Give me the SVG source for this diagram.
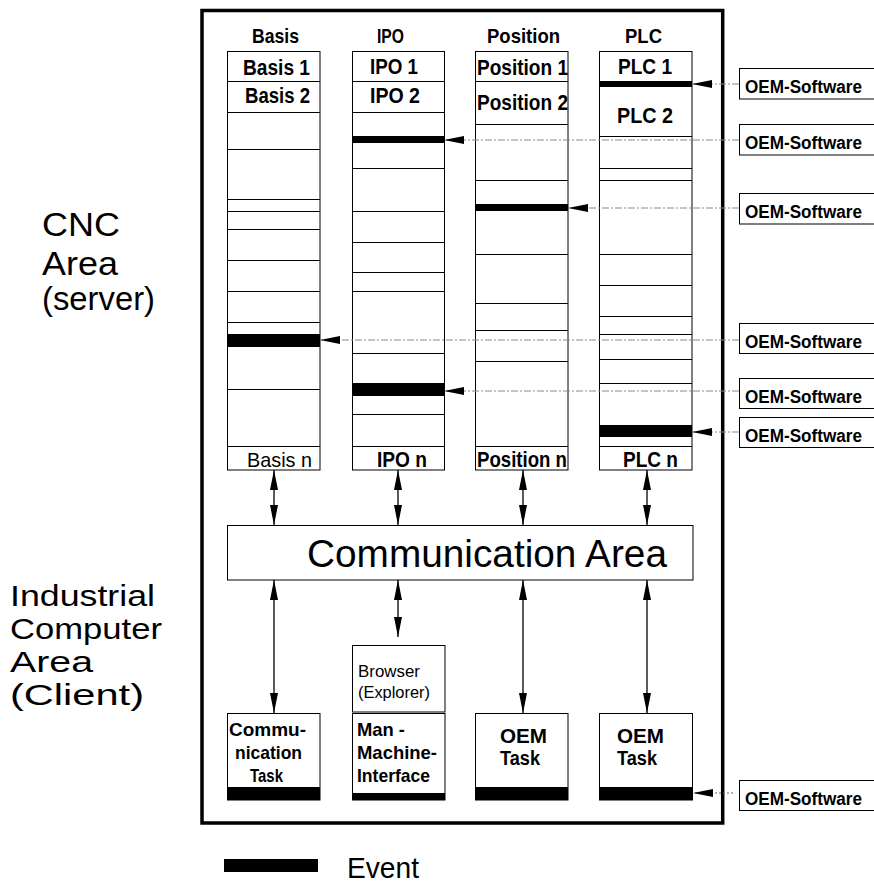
<svg xmlns="http://www.w3.org/2000/svg" width="874" height="885" viewBox="0 0 874 885">
<defs>
<style>
.t{font-family:"Liberation Sans",Arial,sans-serif;fill:#000}
.b{font-weight:bold}
.box{fill:#fff;stroke:#000;stroke-width:1}
.ln{stroke:#000;stroke-width:1;fill:none}
.ev{fill:#000}
.dash{stroke:#8a8a8a;stroke-width:1;stroke-dasharray:7 2 2 2;fill:none}
.dot{stroke:#666;stroke-width:1;stroke-dasharray:2 2;fill:none}
.arr{stroke:#000;stroke-width:1.3;fill:none}
</style>
<marker id="ah" markerUnits="userSpaceOnUse" markerWidth="20" markerHeight="8" refX="20" refY="4" orient="auto-start-reverse" viewBox="0 0 20 8">
<path d="M0,0 L20,4 L0,8 z" fill="#000" stroke="none"/>
</marker>
</defs>
<rect x="0" y="0" width="874" height="885" fill="#fff"/>

<g id="frame">
<rect x="202" y="10.5" width="520.7" height="812.5" fill="none" stroke="#000" stroke-width="3.5"/>
</g>

<g id="side-labels" class="t">
<text x="42" y="236" font-size="34" textLength="78" lengthAdjust="spacingAndGlyphs">CNC</text>
<text x="42" y="275" font-size="34" textLength="76" lengthAdjust="spacingAndGlyphs">Area</text>
<text x="42" y="310" font-size="34" textLength="113" lengthAdjust="spacingAndGlyphs">(server)</text>
<text x="10" y="606" font-size="29" textLength="145" lengthAdjust="spacingAndGlyphs">Industrial</text>
<text x="10" y="639" font-size="29" textLength="152" lengthAdjust="spacingAndGlyphs">Computer</text>
<text x="10" y="672" font-size="29" textLength="83" lengthAdjust="spacingAndGlyphs">Area</text>
<text x="10" y="705" font-size="29" textLength="134" lengthAdjust="spacingAndGlyphs">(Client)</text>
</g>

<g id="col-basis">
<text class="t b" x="252" y="43" font-size="21" textLength="47" lengthAdjust="spacingAndGlyphs">Basis</text>
<rect class="box" x="227.5" y="51.5" width="92.5" height="418.5"/>
<path class="ln" d="M227.5,81.5H320M227.5,112.5H320M227.5,149.5H320M227.5,199.5H320M227.5,211.5H320M227.5,229.5H320M227.5,260.5H320M227.5,291.5H320M227.5,322.5H320M227.5,389.5H320M227.5,446.5H320"/>
<rect class="ev" x="227.5" y="334" width="92.5" height="13"/>
<text class="t b" x="243" y="75" font-size="22" textLength="67" lengthAdjust="spacingAndGlyphs">Basis 1</text>
<text class="t b" x="245" y="103" font-size="22" textLength="65" lengthAdjust="spacingAndGlyphs">Basis 2</text>
<text class="t" x="247" y="467" font-size="21" textLength="65" lengthAdjust="spacingAndGlyphs">Basis n</text>
</g>

<g id="col-ipo">
<text class="t b" x="377" y="43" font-size="21" textLength="27" lengthAdjust="spacingAndGlyphs">IPO</text>
<rect class="box" x="352.5" y="51.5" width="92" height="418.5"/>
<path class="ln" d="M352.5,81.5H444.5M352.5,112.5H444.5M352.5,168.5H444.5M352.5,211.5H444.5M352.5,242.5H444.5M352.5,272.5H444.5M352.5,291.5H444.5M352.5,353.5H444.5M352.5,414.5H444.5M352.5,446.5H444.5"/>
<rect class="ev" x="352.5" y="136" width="92" height="7"/>
<rect class="ev" x="352.5" y="383" width="92" height="13"/>
<text class="t b" x="370" y="74" font-size="22" textLength="48" lengthAdjust="spacingAndGlyphs">IPO 1</text>
<text class="t b" x="370" y="103" font-size="22" textLength="50" lengthAdjust="spacingAndGlyphs">IPO 2</text>
<text class="t b" x="377" y="467" font-size="22" textLength="50" lengthAdjust="spacingAndGlyphs">IPO n</text>
</g>

<g id="col-position">
<text class="t b" x="487" y="43" font-size="21" textLength="73" lengthAdjust="spacingAndGlyphs">Position</text>
<rect class="box" x="475.5" y="51.5" width="92.5" height="418.5"/>
<path class="ln" d="M475.5,81.5H568M475.5,124.5H568M475.5,180.5H568M475.5,254.5H568M475.5,303.5H568M475.5,330.5H568M475.5,361.5H568M475.5,446.5H568"/>
<rect class="ev" x="475.5" y="204" width="92.5" height="7"/>
<text class="t b" x="477" y="75" font-size="22" textLength="91" lengthAdjust="spacingAndGlyphs">Position 1</text>
<text class="t b" x="477" y="110" font-size="22" textLength="91" lengthAdjust="spacingAndGlyphs">Position 2</text>
<text class="t b" x="477" y="467" font-size="22" textLength="90" lengthAdjust="spacingAndGlyphs">Position n</text>
</g>

<g id="col-plc">
<text class="t b" x="625" y="43" font-size="21" textLength="37" lengthAdjust="spacingAndGlyphs">PLC</text>
<rect class="box" x="599.5" y="51.5" width="92.5" height="418.5"/>
<path class="ln" d="M599.5,136.5H692M599.5,168.5H692M599.5,180.5H692M599.5,254.5H692M599.5,285.5H692M599.5,316.5H692M599.5,334.5H692M599.5,359.5H692M599.5,383.5H692M599.5,446.5H692"/>
<rect class="ev" x="599.5" y="81" width="92.5" height="6"/>
<rect class="ev" x="599.5" y="425" width="92.5" height="12"/>
<text class="t b" x="618" y="74" font-size="22" textLength="54" lengthAdjust="spacingAndGlyphs">PLC 1</text>
<text class="t b" x="617" y="123" font-size="22" textLength="56" lengthAdjust="spacingAndGlyphs">PLC 2</text>
<text class="t b" x="623" y="467" font-size="22" textLength="55" lengthAdjust="spacingAndGlyphs">PLC n</text>
</g>

<g id="comm-area">
<rect class="box" x="227.5" y="525.5" width="465.5" height="54.5"/>
<text class="t" x="307" y="567" font-size="38" textLength="360" lengthAdjust="spacingAndGlyphs">Communication Area</text>
</g>

<g id="browser">
<rect class="box" x="352.5" y="645.5" width="92.5" height="66.5"/>
<text class="t" x="358" y="677" font-size="17" fill="#222" textLength="62" lengthAdjust="spacingAndGlyphs">Browser</text>
<text class="t" x="358" y="698" font-size="17" fill="#222" textLength="72" lengthAdjust="spacingAndGlyphs">(Explorer)</text>
</g>

<g id="task-comm">
<rect class="box" x="227.5" y="713.5" width="92.5" height="86.5"/>
<rect class="ev" x="227.5" y="787" width="92.5" height="13"/>
<text class="t b" x="229" y="736" font-size="19" textLength="77" lengthAdjust="spacingAndGlyphs">Commu-</text>
<text class="t b" x="235" y="759" font-size="19" textLength="67" lengthAdjust="spacingAndGlyphs">nication</text>
<text class="t b" x="250" y="782" font-size="19" textLength="33" lengthAdjust="spacingAndGlyphs">Task</text>
</g>

<g id="task-mmi">
<rect class="box" x="352.5" y="713.5" width="92.5" height="86.5"/>
<rect class="ev" x="352.5" y="793" width="92.5" height="7"/>
<text class="t b" x="357" y="736" font-size="19" textLength="48" lengthAdjust="spacingAndGlyphs">Man -</text>
<text class="t b" x="357" y="759" font-size="19" textLength="80" lengthAdjust="spacingAndGlyphs">Machine-</text>
<text class="t b" x="357" y="782" font-size="19" textLength="73" lengthAdjust="spacingAndGlyphs">Interface</text>
</g>

<g id="task-oem1">
<rect class="box" x="475.5" y="713.5" width="92.5" height="86.5"/>
<rect class="ev" x="475.5" y="787" width="92.5" height="13"/>
<text class="t b" x="500" y="743" font-size="20" textLength="47" lengthAdjust="spacingAndGlyphs">OEM</text>
<text class="t b" x="500" y="765" font-size="20" textLength="40" lengthAdjust="spacingAndGlyphs">Task</text>
</g>

<g id="task-oem2">
<rect class="box" x="599.5" y="713.5" width="93" height="86.5"/>
<rect class="ev" x="599.5" y="787" width="93" height="13"/>
<text class="t b" x="617" y="743" font-size="20" textLength="47" lengthAdjust="spacingAndGlyphs">OEM</text>
<text class="t b" x="617" y="765" font-size="20" textLength="40" lengthAdjust="spacingAndGlyphs">Task</text>
</g>

<g id="oem-sw-1"><rect class="box" x="739.5" y="68.5" width="140" height="30.5"/><text class="t b" x="745" y="93" font-size="18" textLength="117" lengthAdjust="spacingAndGlyphs">OEM-Software</text></g>
<g id="oem-sw-2"><rect class="box" x="739.5" y="124.5" width="140" height="30.5"/><text class="t b" x="745" y="149" font-size="18" textLength="117" lengthAdjust="spacingAndGlyphs">OEM-Software</text></g>
<g id="oem-sw-3"><rect class="box" x="739.5" y="193.5" width="140" height="30.5"/><text class="t b" x="745" y="218" font-size="18" textLength="117" lengthAdjust="spacingAndGlyphs">OEM-Software</text></g>
<g id="oem-sw-4"><rect class="box" x="739.5" y="323.5" width="140" height="30"/><text class="t b" x="745" y="348" font-size="18" textLength="117" lengthAdjust="spacingAndGlyphs">OEM-Software</text></g>
<g id="oem-sw-5"><rect class="box" x="739.5" y="378.5" width="140" height="30"/><text class="t b" x="745" y="403" font-size="18" textLength="117" lengthAdjust="spacingAndGlyphs">OEM-Software</text></g>
<g id="oem-sw-6"><rect class="box" x="739.5" y="417.5" width="140" height="30"/><text class="t b" x="745" y="442" font-size="18" textLength="117" lengthAdjust="spacingAndGlyphs">OEM-Software</text></g>
<g id="oem-sw-7"><rect class="box" x="739.5" y="780.5" width="140" height="30"/><text class="t b" x="745" y="805" font-size="18" textLength="117" lengthAdjust="spacingAndGlyphs">OEM-Software</text></g>

<g id="legend">
<rect class="ev" x="224" y="859" width="94" height="13"/>
<text class="t" x="347" y="878" font-size="30" textLength="72" lengthAdjust="spacingAndGlyphs">Event</text>
</g>

<g id="connectors">
<line class="arr" x1="274" y1="470" x2="274" y2="525" marker-start="url(#ah)" marker-end="url(#ah)"/>
<line class="arr" x1="398" y1="470" x2="398" y2="525" marker-start="url(#ah)" marker-end="url(#ah)"/>
<line class="arr" x1="523" y1="470" x2="523" y2="525" marker-start="url(#ah)" marker-end="url(#ah)"/>
<line class="arr" x1="647" y1="470" x2="647" y2="525" marker-start="url(#ah)" marker-end="url(#ah)"/>
<line class="arr" x1="274" y1="580" x2="274" y2="713" marker-start="url(#ah)" marker-end="url(#ah)"/>
<line class="arr" x1="398" y1="580" x2="398" y2="637" marker-start="url(#ah)" marker-end="url(#ah)"/>
<line class="arr" x1="523" y1="580" x2="523" y2="713" marker-start="url(#ah)" marker-end="url(#ah)"/>
<line class="arr" x1="647" y1="580" x2="647" y2="713" marker-start="url(#ah)" marker-end="url(#ah)"/>
<line class="dash" x1="739" y1="84" x2="692" y2="84" marker-end="url(#ah)"/>
<line class="dash" x1="739" y1="140" x2="444" y2="140" marker-end="url(#ah)"/>
<line class="dash" x1="739" y1="208" x2="568" y2="208" marker-end="url(#ah)"/>
<line class="dash" x1="739" y1="340" x2="320" y2="340" marker-end="url(#ah)"/>
<line class="dash" x1="739" y1="391" x2="444" y2="391" marker-end="url(#ah)"/>
<line class="dash" x1="739" y1="432" x2="692" y2="432" marker-end="url(#ah)"/>
<line class="dot" x1="733" y1="793" x2="693" y2="793" marker-end="url(#ah)"/>
</g>
</svg>
